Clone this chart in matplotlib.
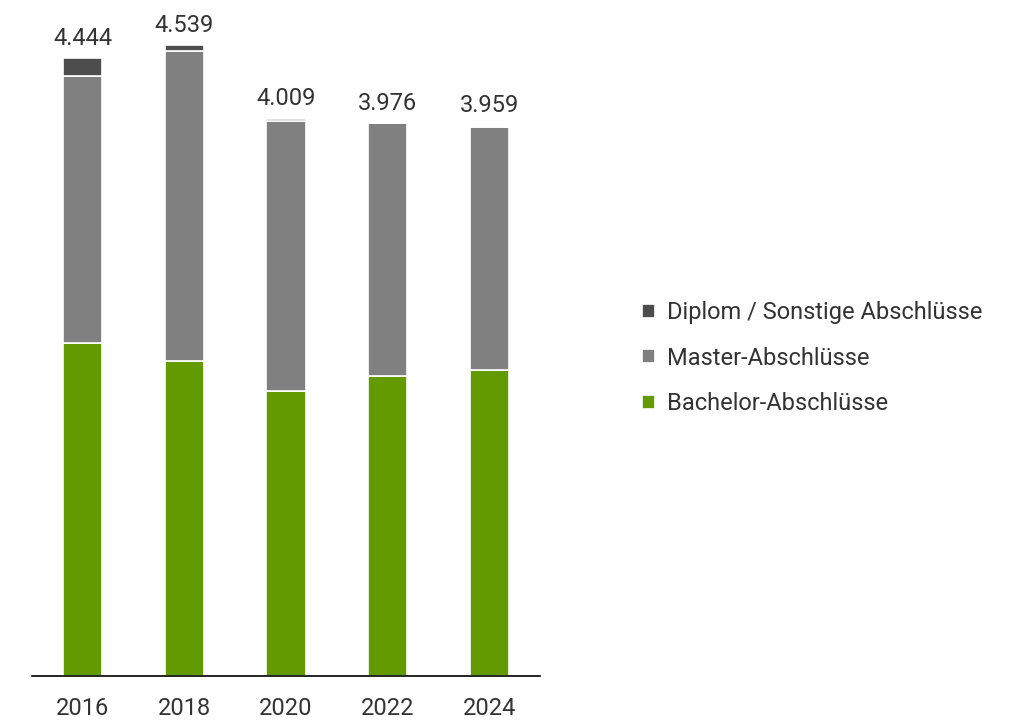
import matplotlib
matplotlib.use("Agg")
import matplotlib.pyplot as plt
import numpy as np

years = ["2016", "2018", "2020", "2022", "2024"]
totals = [4444, 4539, 4009, 3976, 3959]
bachelor = [2395, 2266, 2050, 2158, 2201]
master = [1920, 2228, 1946, 1818, 1749]
diplom = [129, 45, 13, 0, 9]

labels = ["Diplom / Sonstige Abschlüsse", "Master-Abschlüsse", "Bachelor-Abschlüsse"]
colors = ["#4d4d4d", "#808080", "#639a00"]

plt.rcParams["font.family"] = ["Roboto", "DejaVu Sans"]
text_color = "#333333"
fs = 17

fig = plt.figure(figsize=(10.17, 7.24), dpi=100)
ax = fig.add_axes([32 / 1017, 48 / 724, 508 / 1017, 656 / 724])

x = np.arange(len(years))
w = 0.385
bottom = np.zeros(len(years))
bars = {}
for name, vals, col in [(labels[2], bachelor, colors[2]),
                        (labels[1], master, colors[1]),
                        (labels[0], diplom, colors[0])]:
    bars[name] = ax.bar(x, vals, w, bottom=bottom, color=col,
                        edgecolor="white", linewidth=1.2, label=name)
    bottom += np.array(vals)

for xi, t in zip(x, totals):
    ax.text(xi, t + 60, f"{t:,}".replace(",", "."), ha="center", va="bottom",
            fontsize=fs, color=text_color)

ax.set_xlim(-0.5, 4.5)
ax.set_ylim(0, 4719)
ax.set_xticks(x)
ax.set_xticklabels(years, fontsize=fs, color=text_color)
ax.tick_params(axis="x", length=0, pad=15)
ax.set_yticks([])
for s in ["top", "right", "left"]:
    ax.spines[s].set_visible(False)
ax.spines["bottom"].set_color("black")
ax.spines["bottom"].set_linewidth(1.2)

handles = [bars[l] for l in labels]
fig.legend(handles, labels, loc="upper left", bbox_to_anchor=(621 / 1017, 1 - 280 / 724),
           frameon=False, fontsize=fs, labelcolor=text_color,
           handlelength=0.55, handleheight=0.55, handletextpad=0.5,
           labelspacing=0.95)

fig.savefig("out.png", dpi=100)
